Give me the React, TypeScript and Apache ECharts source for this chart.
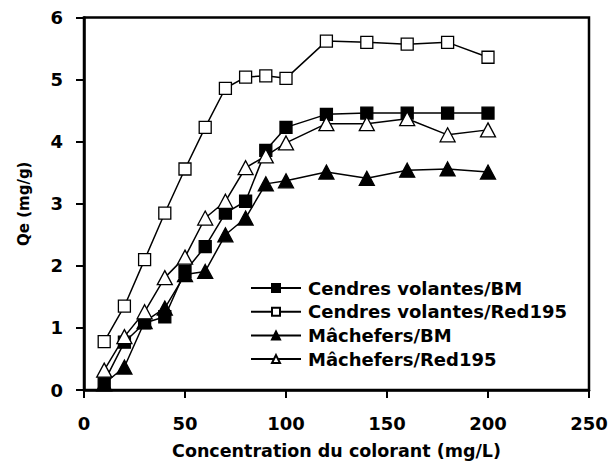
import React, { useEffect, useRef } from "react";
import * as echarts from "echarts";

const concentrations = [10, 20, 30, 40, 50, 60, 70, 80, 90, 100, 120, 140, 160, 180, 200];
const cendresBM = [0.13, 0.77, 1.08, 1.18, 1.91, 2.31, 2.85, 3.04, 3.86, 4.23, 4.44, 4.46, 4.46, 4.46, 4.46];
const cendresRed195 = [0.78, 1.35, 2.1, 2.85, 3.56, 4.23, 4.86, 5.04, 5.06, 5.02, 5.62, 5.6, 5.57, 5.6, 5.36];
const machefersBM = [0.1, 0.37, 1.1, 1.32, 1.86, 1.91, 2.5, 2.77, 3.32, 3.37, 3.51, 3.41, 3.54, 3.56, 3.51];
const machefersRed195 = [0.32, 0.86, 1.26, 1.81, 2.14, 2.77, 3.04, 3.58, 3.77, 3.98, 4.29, 4.29, 4.37, 4.11, 4.19];

const xTicks = [0, 50, 100, 150, 200, 250];
const yTicks = [0, 1, 2, 3, 4, 5, 6];

const FONT = "'DejaVu Sans', Arial, sans-serif";

export default function App() {
  const ref = useRef<HTMLDivElement>(null);
  useEffect(() => {
    document.body.style.margin = "0";
    if (!ref.current) return;
    const chart = echarts.init(ref.current, undefined, { renderer: "svg" });
    const pair = (ys: number[]) => concentrations.map((x, i) => [x, ys[i]]);
    const mkSeries = (name: string, ys: number[], symbol: string, filled: boolean, size: number | number[]) => ({
      name,
      type: "line",
      data: pair(ys),
      symbol,
      symbolSize: size,
      showSymbol: true,
      lineStyle: { color: "#000", width: 1.5 },
      itemStyle: { color: filled ? "#000" : "#fff", borderColor: "#000", borderWidth: 1.3 },
      emphasis: { disabled: true },
      z: 3,
    });
    chart.setOption({
      animation: false,
      backgroundColor: "#fff",
      textStyle: { fontFamily: FONT },
      grid: {
        left: 84,
        right: 20,
        top: 17.5,
        bottom: 71,
        containLabel: false,
        outerBoundsMode: "none",
        show: true,
        borderColor: "#000",
        borderWidth: 2.5,
        backgroundColor: "transparent",
      },
      legend: {
        left: 250,
        top: 279,
        padding: 0,
        orient: "vertical",
        itemWidth: 50,
        itemHeight: 10,
        itemGap: 5.7,
        textStyle: { fontFamily: FONT, fontWeight: "bold", fontSize: 18, color: "#000", padding: [0, 0, 0, 2] },
        data: ["Cendres volantes/BM", "Cendres volantes/Red195", "Mâchefers/BM", "Mâchefers/Red195"],
      },
      xAxis: {
        type: "value",
        min: xTicks[0],
        max: xTicks[xTicks.length - 1],
        interval: 50,
        name: "Concentration du colorant (mg/L)",
        nameLocation: "middle",
        nameGap: 52,
        nameTextStyle: { fontFamily: FONT, fontWeight: "bold", fontSize: 17.5, color: "#000" },
        axisLine: { lineStyle: { color: "#000", width: 2.5 } },
        axisTick: { show: true, length: 8, lineStyle: { color: "#000", width: 2 } },
        axisLabel: { margin: 24, fontFamily: FONT, fontWeight: "bold", fontSize: 18, color: "#000" },
        splitLine: { show: false },
      },
      yAxis: {
        type: "value",
        min: yTicks[0],
        max: yTicks[yTicks.length - 1],
        interval: 1,
        name: "Qe (mg/g)",
        nameLocation: "middle",
        nameGap: 53,
        nameTextStyle: { fontFamily: FONT, fontWeight: "bold", fontSize: 15, color: "#000" },
        axisLine: { lineStyle: { color: "#000", width: 2.5 } },
        axisTick: { show: true, length: 8, lineStyle: { color: "#000", width: 2 } },
        axisLabel: { margin: 21, fontFamily: FONT, fontWeight: "bold", fontSize: 18, color: "#000" },
        splitLine: { show: false },
      },
      series: [
        mkSeries("Cendres volantes/BM", cendresBM, "rect", true, 12),
        mkSeries("Cendres volantes/Red195", cendresRed195, "rect", false, 12),
        mkSeries("Mâchefers/BM", machefersBM, "triangle", true, [15, 14]),
        mkSeries("Mâchefers/Red195", machefersRed195, "triangle", false, [15, 14]),
      ],
    });
    return () => chart.dispose();
  }, []);
  return <div ref={ref} style={{ width: 609, height: 461 }} />;
}
